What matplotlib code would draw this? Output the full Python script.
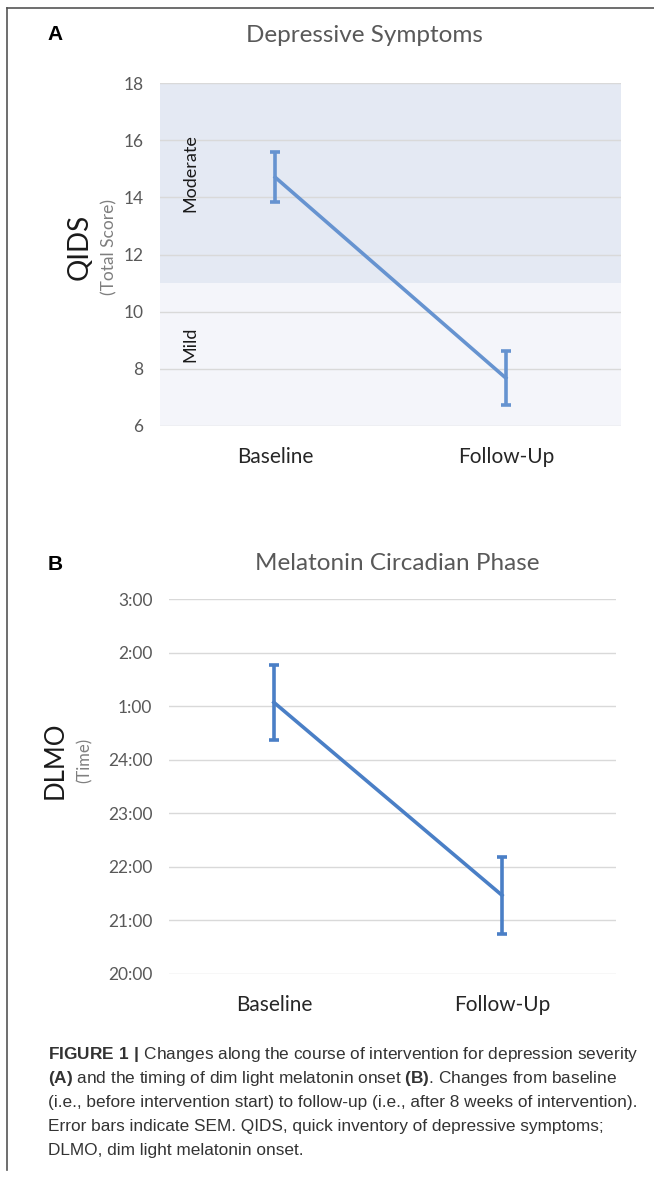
import numpy as np
import matplotlib.pyplot as plt
from matplotlib.ticker import FuncFormatter

# data
groups = ["Baseline", "Follow-Up"]
qids_mean = [14.7, 7.68]
qids_sem = [0.87, 0.95]
dlmo_mean = [25.07, 21.47]   # hours, values above 24 are after midnight
dlmo_sem = [0.70, 0.72]

qids_ticks = [6, 8, 10, 12, 14, 16, 18]
dlmo_ticks = [20, 21, 22, 23, 24, 25, 26, 27]
severity_bands = [("Mild", 6, 11, "#f4f5fa"), ("Moderate", 11, 18, "#e4e9f3")]

caption = [
    (r"$\bf{FIGURE\ 1\ |}$ Changes along the course of intervention for depression severity"),
    (r"$\bf{(A)}$ and the timing of dim light melatonin onset $\bf{(B)}$. Changes from baseline"),
    "(i.e., before intervention start) to follow-up (i.e., after 8 weeks of intervention).",
    "Error bars indicate SEM. QIDS, quick inventory of depressive symptoms;",
    "DLMO, dim light melatonin onset.",
]

plt.rcParams['font.family'] = ['Lato', 'DejaVu Sans']
plt.rcParams['mathtext.fontset'] = 'custom'
plt.rcParams['mathtext.bf'] = 'Liberation Sans:bold'
plt.rcParams['mathtext.rm'] = 'Liberation Sans'

fig = plt.figure(figsize=(6.54, 11.78), dpi=100)
W, H = 654, 1178


def px_axes(left, top, right, bottom):
    return fig.add_axes([left / W, 1 - bottom / H, (right - left) / W, (bottom - top) / H])


def style_axes(axis, ticks):
    axis.set_yticks(ticks)
    axis.grid(axis='y', color='#d9d9d9', linewidth=1.0, zorder=1)
    axis.set_axisbelow(True)
    for side in axis.spines.values():
        side.set_visible(False)
    axis.tick_params(axis='both', length=0, labelsize=12.5, colors='#595959', pad=12)
    axis.set_xticks(range(len(groups)))
    axis.set_xticklabels(groups, fontsize=15, color='#262626')
    axis.tick_params(axis='x', pad=15)


# frame around the figure
fig.add_artist(plt.Line2D([7 / W, 7 / W], [1 - 8 / H, 1 - 1170 / H], color='#555555', lw=1.2))
fig.add_artist(plt.Line2D([7 / W, 1.0], [1 - 8 / H, 1 - 8 / H], color='#555555', lw=1.2))

# panel A
ax_a = px_axes(160, 83, 621, 426)
for name, lo, hi, col in severity_bands:
    ax_a.axhspan(lo, hi, color=col, lw=0, zorder=0)
style_axes(ax_a, qids_ticks)
ax_a.set_ylim(6, 18)
ax_a.set_xlim(-0.5, 1.5)
ax_a.errorbar(range(len(groups)), qids_mean, yerr=qids_sem, color='#6693d0', lw=2.6,
              elinewidth=2.6, capsize=3.5, capthick=2.6, zorder=3)
ax_a.text(-0.37, 14.85, "Moderate", rotation=90, ha='center', va='center', fontsize=13, color='#1a1a1a')
ax_a.text(-0.37, 8.85, "Mild", rotation=90, ha='center', va='center', fontsize=13, color='#1a1a1a')
fig.text(80 / W, 1 - 247 / H, "QIDS", rotation=90, ha='center', va='center', fontsize=20, color='#1a1a1a')
fig.text(109 / W, 1 - 247 / H, "(Total Score)", rotation=90, ha='center', va='center', fontsize=12.5, color='#7f7f7f')
fig.text(364 / W, 1 - 35 / H, "Depressive Symptoms", ha='center', va='center', fontsize=17.5, color='#595959')
fig.text(55 / W, 1 - 35 / H, "A", ha='center', va='center', fontsize=15, fontweight='bold', family='Liberation Sans')

# panel B
ax_b = px_axes(169, 599, 616, 974)
style_axes(ax_b, dlmo_ticks)
ax_b.set_ylim(20, 27)
ax_b.set_xlim(-0.46, 1.5)
ax_b.yaxis.set_major_formatter(FuncFormatter(lambda v, p: f"{int(v) if v <= 24 else int(v) - 24}:00"))
ax_b.errorbar(range(len(groups)), dlmo_mean, yerr=dlmo_sem, color='#4a7fc6', lw=2.6,
              elinewidth=2.6, capsize=3.5, capthick=2.6, zorder=3)
fig.text(55 / W, 1 - 760 / H, "DLMO", rotation=90, ha='center', va='center', fontsize=18.5, color='#1a1a1a')
fig.text(85 / W, 1 - 760 / H, "(Time)", rotation=90, ha='center', va='center', fontsize=12, color='#7f7f7f')
fig.text(397 / W, 1 - 563 / H, "Melatonin Circadian Phase", ha='center', va='center', fontsize=17.5, color='#595959')
fig.text(55 / W, 1 - 565 / H, "B", ha='center', va='center', fontsize=15, fontweight='bold', family='Liberation Sans')

# caption
for i, line in enumerate(caption):
    fig.text(48 / W, 1 - (1055 + 24 * i) / H, line, ha='left', va='center', fontsize=12.4,
             color='#333333', family='Liberation Sans')

plt.savefig('out.png', dpi=100)
plt.close()
